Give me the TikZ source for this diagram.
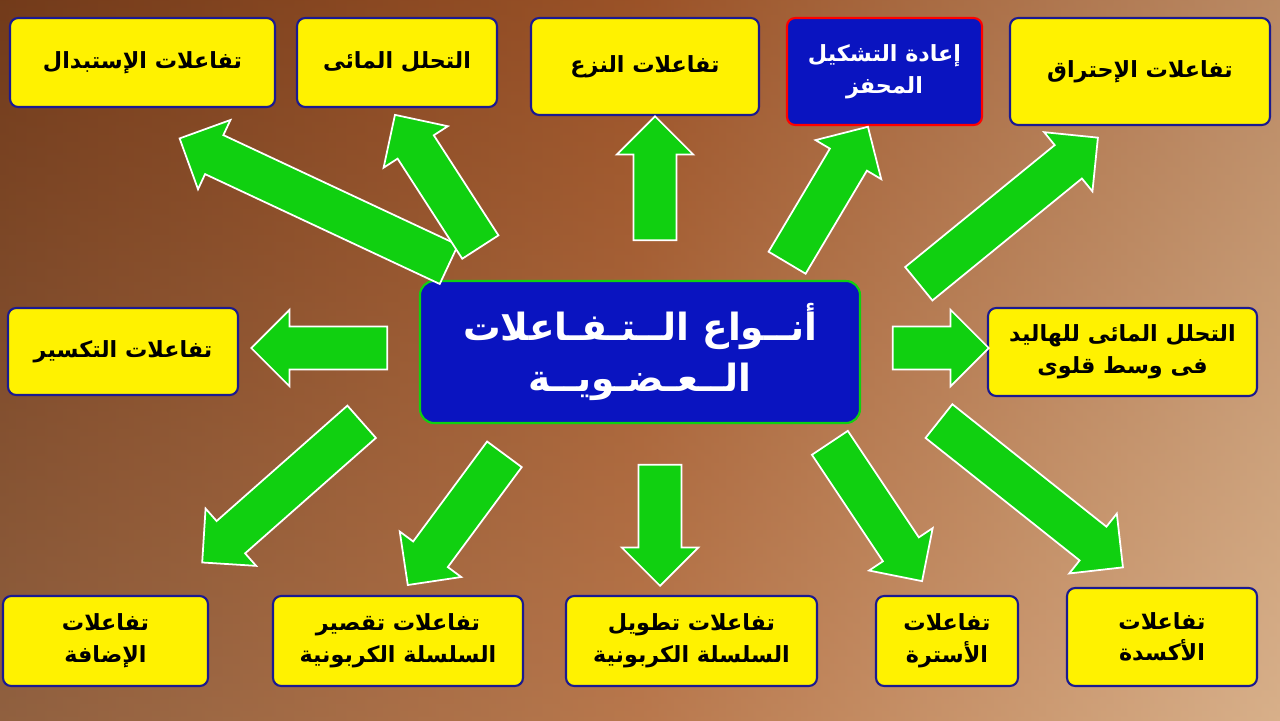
\documentclass[tikz,border=0pt]{standalone}
\usepackage{fontspec}
\usetikzlibrary{shapes.arrows,calc}
\TeXXeTstate=1
\newfontfamily\arabicfont[Script=Arabic]{DejaVu Sans}
\newcommand{\arx}[1]{{\arabicfont\bfseries\beginR #1\endR}}
\definecolor{bgdark}{HTML}{6A3618}
\definecolor{bgmid}{HTML}{A85A2C}
\definecolor{bglight}{HTML}{D8B08A}
\definecolor{navy}{HTML}{1A1A90}
\definecolor{boxblue}{HTML}{0A14C0}
\definecolor{agreen}{HTML}{10D010}
\tikzset{
  ybox/.style={draw=navy, line width=1.8pt, fill=yellow, rounded corners=7pt, align=center, font=\fontsize{19}{27}\selectfont, inner sep=2pt},
  bbox/.style={draw=red, line width=1.8pt, fill=boxblue, text=white, rounded corners=7pt, align=center, font=\fontsize{19}{27}\selectfont, inner sep=2pt},
  fatarr/.style={single arrow, draw=white, line width=1.5pt, fill=agreen, inner xsep=0pt, inner ysep=0.62cm, outer sep=0pt, single arrow head extend=0.5cm, single arrow tip angle=90}
}
\newcommand{\fatarrow}[2]{\path let \p1=($(#2)-(#1)$), \n1={atan2(\y1,\x1)}, \n2={veclen(\x1,\y1)-12pt} in node[fatarr, minimum height=\n2, rotate=\n1] at ($(#1)!0.5!(#2)$) {};}
\begin{document}
\begin{tikzpicture}[x=0.03cm,y=-0.03cm]
\useasboundingbox (0,0) rectangle (1280,720);
\shade[left color=bgdark, right color=bglight, middle color=bgmid] (0,0) rectangle (1280,720);
\shade[top color=bgdark!60!bgmid, bottom color=bglight, opacity=0.35] (0,0) rectangle (1280,720);
% boxes
\node[ybox, minimum width=265*0.03cm, minimum height=89*0.03cm] (b1) at (142.5,62.5) {\arx{تفاعلات الإستبدال}};
\node[ybox, minimum width=200*0.03cm, minimum height=89*0.03cm] (b2) at (397,62.5) {\arx{التحلل المائى}};
\node[ybox, minimum width=228*0.03cm, minimum height=97*0.03cm] (b3) at (645,66.5) {\arx{تفاعلات النزع}};
\node[bbox, minimum width=195*0.03cm, minimum height=107*0.03cm] (b4) at (884.5,71.5) {\arx{إعادة التشكيل}\\\arx{المحفز}};
\node[ybox, minimum width=260*0.03cm, minimum height=107*0.03cm] (b5) at (1140,71.5) {\arx{تفاعلات الإحتراق}};
\node[ybox, minimum width=230*0.03cm, minimum height=87*0.03cm] (b6) at (123,351.5) {\arx{تفاعلات التكسير}};
\node[draw=agreen, line width=1.8pt, fill=boxblue, text=white, rounded corners=12pt, align=center, font=\fontsize{32}{44}\selectfont, minimum width=440*0.03cm, minimum height=142*0.03cm] (c) at (640,352) {\arx{أنــواع الــتـفـاعلات}\\\arx{الــعـضـويــة}};
\node[ybox, minimum width=269*0.03cm, minimum height=88*0.03cm] (b7) at (1122.5,352) {\arx{التحلل المائى للهاليد}\\\arx{فى وسط قلوى}};
\node[ybox, minimum width=205*0.03cm, minimum height=90*0.03cm] (b8) at (105.5,641) {\arx{تفاعلات}\\\arx{الإضافة}};
\node[ybox, minimum width=250*0.03cm, minimum height=90*0.03cm] (b9) at (398,641) {\arx{تفاعلات تقصير}\\\arx{السلسلة الكربونية}};
\node[ybox, minimum width=251*0.03cm, minimum height=90*0.03cm] (b10) at (691.5,641) {\arx{تفاعلات تطويل}\\\arx{السلسلة الكربونية}};
\node[ybox, minimum width=142*0.03cm, minimum height=90*0.03cm] (b11) at (947,641) {\arx{تفاعلات}\\\arx{الأسترة}};
\node[ybox, minimum width=190*0.03cm, minimum height=98*0.03cm] (b12) at (1162,637) {\arx{تفاعلات}\\\arx{الأكسدة}};
% arrow endpoints
\coordinate (t1) at (465,272); \coordinate (h1) at (183,140);
\coordinate (t2) at (490,262); \coordinate (h2) at (397,118);
\coordinate (t3) at (655,258); \coordinate (h3) at (655,120);
\coordinate (t4) at (778,278); \coordinate (h4) at (866,130);
\coordinate (t5) at (905,295); \coordinate (h5) at (1095,140);
\coordinate (t6) at (405,348); \coordinate (h6) at (255,348);
\coordinate (t7) at (875,348); \coordinate (h7) at (985,348);
\coordinate (t8) at (375,410); \coordinate (h8) at (205,560);
\coordinate (t9) at (515,440); \coordinate (h9) at (410,582);
\coordinate (t10) at (660,447); \coordinate (h10) at (660,582);
\coordinate (t11) at (820,428); \coordinate (h11) at (920,578);
\coordinate (t12) at (925,410); \coordinate (h12) at (1120,565);
\foreach \i in {1,...,12}{\fatarrow{t\i}{h\i}}
\end{tikzpicture}
\end{document}
